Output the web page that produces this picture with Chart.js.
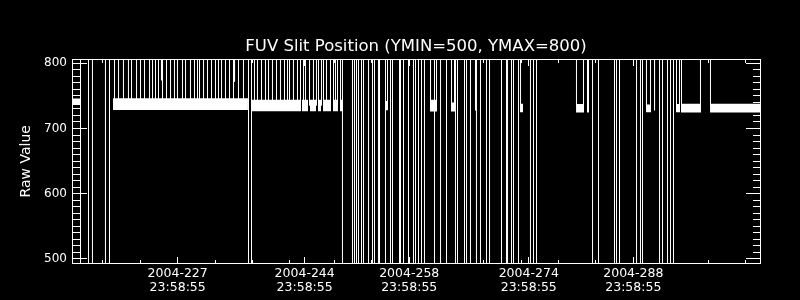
<!DOCTYPE html>
<html><head><meta charset="utf-8">
<script src="https://cdn.jsdelivr.net/npm/chart.js@4.4.0/dist/chart.umd.min.js"></script>
<style>html,body{margin:0;padding:0;background:#000;}canvas{display:block;}</style>
</head><body>
<canvas id="c" width="800" height="300"></canvas>
<script>
// x unit: day of year 2004 (fractional day), y unit: raw value
const xMin = 213.85, xMax = 305.96;
const yMin = 493.4, yMax = 806.1;
const tickTimeOfDay = '23:58:55';
const xMajorTickDays = [227, 244, 258, 274, 288];
const xTickLabels = [['2004-227', '23:58:55'], ['2004-244', '23:58:55'], ['2004-258', '23:58:55'], ['2004-274', '23:58:55'], ['2004-288', '23:58:55']];
const xMinorTickDays = [217, 222, 232, 237, 242, 248, 253, 263, 268, 273, 278, 283, 293, 298, 303];
const yTickValues = [500, 600, 700, 800];
const yMinorStep = 10;

// readings that leave the plotted range (drawn as vertical strokes)
const offScaleHigh = 1000, offScaleLow = 0;
const bandLevel = 735;
// jumps from off-scale low to off-scale high (full height strokes)
const fullSwingDays = [214.99, 216.06, 216.59, 218.33, 218.87, 237.48, 237.88, 250.06, 251.40, 251.67,
  251.94, 252.21, 252.61, 252.88, 253.55, 254.08, 254.35, 254.88, 255.02, 255.82, 256.49, 256.76,
  257.70, 257.83, 258.23, 258.90, 259.57, 259.84, 260.24, 260.64, 261.04, 262.38, 263.19, 263.99,
  265.19, 265.46, 266.40, 266.67, 267.20, 268.00, 268.54, 269.34, 269.75, 271.35, 272.02, 272.16,
  272.69, 272.96, 273.63, 275.23, 275.64, 276.04, 283.54, 284.34, 286.48, 286.75, 287.15, 289.43,
  289.96, 290.23, 292.51, 292.91, 293.58, 293.98, 294.38];
// excursions from the normal band to off-scale high
const upSpikeDays = [219.54, 220.08, 220.74, 221.41, 221.82, 222.49, 223.02, 223.56, 224.23, 224.63,
  225.03, 225.43, 225.97, 226.50, 227.04, 227.57, 227.97, 228.64, 229.05, 229.71, 230.25, 230.65,
  230.92, 231.46, 231.99, 232.53, 233.06, 233.46, 233.87, 234.40, 234.94, 235.47, 236.14, 236.81,
  238.28, 238.68, 239.22, 239.76, 240.16, 240.69, 241.23, 241.76, 242.30, 242.70, 242.97, 243.50,
  244.04, 244.44, 244.84, 245.11, 245.65, 246.18, 246.58, 246.85, 247.25, 247.52, 247.92, 248.46,
  248.86, 249.13, 249.40, 249.80, 256.09, 261.85, 262.65, 264.66, 265.06, 273.90, 281.39, 282.33,
  290.76, 291.30, 294.78, 295.18, 295.45, 297.99, 299.33];
// strokes from off-scale high down to a reading
const highStubs = [[217.93, 803], [225.83, 774], [235.61, 772], [267.87, 728], [282.87, 725], [283.00, 725], [291.84, 728]];
// spans of normal readings: [startDay, endDay, low, high]
const bandSegments = [
  [213.85, 214.92, 736, 746],
  [219.34, 237.41, 728.5, 746.5],
  [237.81, 244.51, 726.5, 744],
  [244.64, 245.45, 726.5, 744],
  [245.71, 246.52, 726.5, 744],
  [246.78, 247.19, 726.5, 744],
  [247.45, 248.53, 726.5, 744],
  [248.79, 249.46, 726.5, 744],
  [249.73, 250.13, 726.5, 744],
  [255.75, 256.16, 728, 742],
  [261.78, 262.72, 726, 744],
  [264.59, 265.13, 726, 740],
  [273.83, 274.23, 725, 738],
  [281.33, 282.40, 724.5, 737.5],
  [290.70, 291.37, 725, 737],
  [294.71, 295.25, 725, 737.5],
  [295.38, 298.06, 724.5, 738],
  [299.27, 305.96, 724.5, 738]
];

const [hh, mm, ss] = tickTimeOfDay.split(':').map(Number);
const dayFrac = (hh * 3600 + mm * 60 + ss) / 86400;
const xTickValues = xMajorTickDays.map(d => d + dayFrac);
const xMinorTickValues = xMinorTickDays.map(d => d + dayFrac);

const strokes = [];
fullSwingDays.forEach(d => strokes.push({x: d, y: offScaleLow}, {x: d, y: offScaleHigh}, {x: d, y: null}));
upSpikeDays.forEach(d => strokes.push({x: d, y: bandLevel}, {x: d, y: offScaleHigh}, {x: d, y: null}));
highStubs.forEach(([d, v]) => strokes.push({x: d, y: offScaleHigh}, {x: d, y: v}, {x: d, y: null}));

const bandTop = [], bandBottom = [];
bandSegments.forEach(([d0, d1, lo, hi]) => {
  bandTop.push({x: d0, y: hi}, {x: d1, y: hi}, {x: d1, y: null});
  bandBottom.push({x: d0, y: lo}, {x: d1, y: lo}, {x: d1, y: null});
});

const axisTicks = {
  id: 'axisTicks',
  afterDraw(chart) {
    const {ctx, chartArea: ca, scales: {x, y}} = chart;
    const T = Math.floor(ca.top) + 0.5, B = Math.floor(ca.bottom), L = Math.floor(ca.left), R = Math.floor(ca.right) + 0.5;
    ctx.save();
    ctx.strokeStyle = '#fff';
    ctx.lineWidth = 1;
    ctx.beginPath();
    ctx.moveTo(L, T); ctx.lineTo(R + 0.5, T);
    ctx.moveTo(R, T); ctx.lineTo(R, B + 1);
    const xt = (v, len) => {
      const p = Math.floor(x.getPixelForValue(v)) + 0.5;
      ctx.moveTo(p, B); ctx.lineTo(p, B - len);
      ctx.moveTo(p, T + 0.5); ctx.lineTo(p, T + 0.5 + len);
    };
    xMinorTickValues.forEach(v => xt(v, 3));
    xTickValues.forEach(v => xt(v, 6));
    const yt = (v, len) => {
      const p = Math.floor(y.getPixelForValue(v)) + 0.5;
      ctx.moveTo(L + 1, p); ctx.lineTo(L + 1 + len, p);
      ctx.moveTo(R - 0.5, p); ctx.lineTo(R - 0.5 - len, p);
    };
    for (let v = yTickValues[0]; v <= yTickValues[yTickValues.length - 1]; v += yMinorStep) {
      yt(v, yTickValues.includes(v) ? 14 : 7);
    }
    ctx.stroke();
    ctx.restore();
  }
};

const font = 'DejaVu Sans';
new Chart(document.getElementById('c').getContext('2d'), {
  type: 'line',
  data: {
    datasets: [
      {label: 'band top', data: bandTop, borderWidth: 0, pointRadius: 0, fill: false, spanGaps: false},
      {label: 'band bottom', data: bandBottom, borderWidth: 0, pointRadius: 0, fill: '-1', backgroundColor: '#ffffff', spanGaps: false},
      {label: 'Raw Value', data: strokes, borderColor: '#ffffff', borderWidth: 1, pointRadius: 0, fill: false, spanGaps: false}
    ]
  },
  options: {
    responsive: false,
    animation: false,
    events: [],
    devicePixelRatio: 1,
    layout: {padding: {top: 37.1, right: 40, bottom: 0, left: 0}},
    plugins: {
      legend: {display: false},
      tooltip: {enabled: false},
      title: {
        display: true, text: 'FUV Slit Position (YMIN=500, YMAX=800)', color: '#ffffff', fullSize: false,
        font: {family: font, size: 16.5, weight: 'normal', lineHeight: 1.2},
        padding: {top: 0, bottom: 2.4}
      }
    },
    scales: {
      x: {
        type: 'linear', position: 'bottom', min: xMin, max: xMax,
        afterBuildTicks: s => { s.ticks = xTickValues.map(v => ({value: v})); },
        afterFit: s => { s.height = 36.7; },
        grid: {display: false, drawTicks: false},
        border: {display: true, color: '#ffffff', width: 1},
        ticks: {
          color: '#ffffff', autoSkip: false, maxRotation: 0, minRotation: 0, padding: 3.4,
          font: {family: font, size: 12.5, lineHeight: 1.12},
          callback: (v, i) => xTickLabels[i]
        }
      },
      y: {
        type: 'linear', position: 'left', min: yMin, max: yMax,
        afterBuildTicks: s => { s.ticks = yTickValues.map(v => ({value: v})); },
        afterFit: s => { s.width = 72; },
        grid: {display: false, drawTicks: false},
        border: {display: true, color: '#ffffff', width: 1},
        ticks: {color: '#ffffff', padding: 5, font: {family: font, size: 12}, callback: v => String(v)},
        title: {display: true, text: 'Raw Value', color: '#ffffff', font: {family: font, size: 14}, padding: {top: 18.3, bottom: 0}}
      }
    }
  },
  plugins: [axisTicks]
});
</script>
</body></html>
